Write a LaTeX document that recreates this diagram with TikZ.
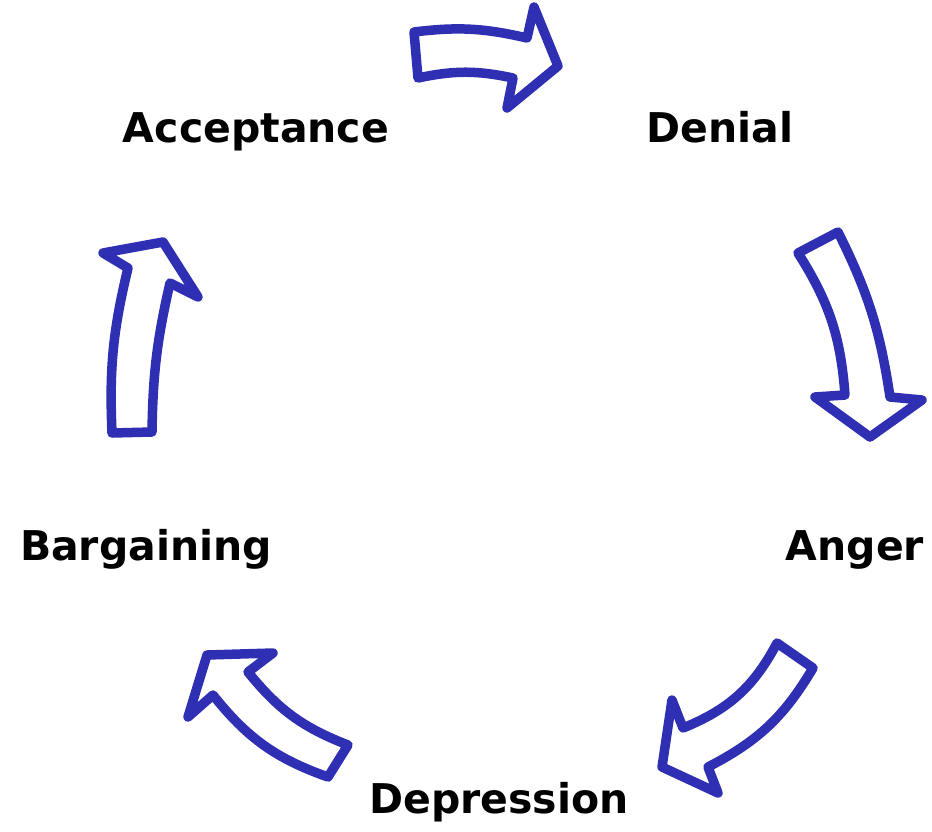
\documentclass[tikz,border=0pt]{standalone}
\usepackage{fontspec}
\setmainfont{DejaVu Sans}
\usepackage{tikz}
\definecolor{arrowblue}{HTML}{2F2FB4}

\begin{document}
\begin{tikzpicture}[x=1pt, y=-1pt,
stage/.style = {anchor=base, inner sep=0pt, text=black,
  font=\bfseries\fontsize{41}{48}\selectfont},
turn/.style = {draw=arrowblue, line width=9.5pt, line join=round, fill=white}
]
\useasboundingbox (0,0) rectangle (932,831);

\node (acceptance) [stage] at (256,142) {Acceptance};
\node (denial) [stage] at (720,142) {Denial};
\node (anger) [stage] at (855,560) {Anger};
\node (depression) [stage] at (499,813) {Depression};
\node (bargaining) [stage] at (146,560) {Bargaining};

% acceptance -> denial
\draw [turn] (414,32) -- (418,78) to[bend left=12] (513,78) -- (507,108)
  -- (558,66) -- (534,7) -- (527,38) to[bend right=10] (414,32) -- cycle;
% denial -> anger
\draw [turn] (798,253) -- (838,232) to[bend left=9] (890,397) -- (922,400)
  -- (870,437) -- (815,397) -- (845,395) to[bend right=14] (798,253) -- cycle;
% anger -> depression
\draw [turn] (777,643) -- (813,668) to[bend left=16] (708,767) -- (718,793)
  -- (662,767) -- (672,700) -- (683,728) to[bend right=20] (777,643) -- cycle;
% depression -> bargaining
\draw [turn] (348,745) -- (328,777) to[bend left=16] (213,695) -- (188,717)
  -- (207,655) -- (273,653) -- (248,672) to[bend right=15] (348,745) -- cycle;
% bargaining -> acceptance
\draw [turn] (152,432) -- (112,433) to[bend left=8] (128,268) -- (103,253)
  -- (163,242) -- (198,297) -- (170,283) to[bend right=6] (152,432) -- cycle;

\end{tikzpicture}
\end{document}
